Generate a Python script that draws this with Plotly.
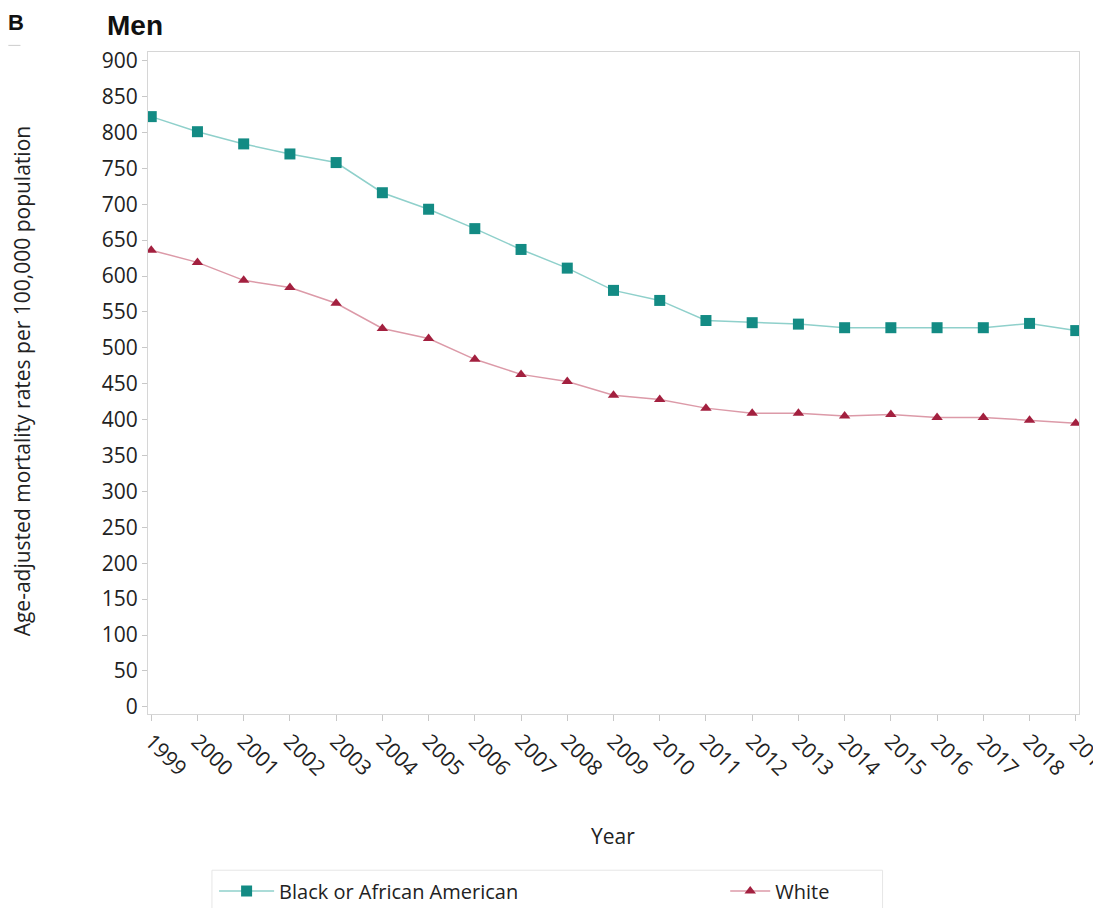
import plotly.graph_objects as go

years = list(range(1999, 2020))
year_labels = [str(y) for y in years]
black = [822, 801, 784, 770, 758, 716, 693, 666, 637, 611, 580, 566, 538, 535, 533, 528, 528, 528, 528, 534, 524]
white = [636, 619, 594, 584, 562, 527, 513, 484, 463, 453, 434, 428, 416, 409, 409, 405, 407, 403, 403, 399, 395]
y_ticks = list(range(0, 901, 50))

FONT = "Open Sans"

fig = go.Figure()
fig.add_trace(go.Scatter(
    x=years, y=black, name="Black or African American", mode="lines+markers",
    line=dict(color="#8fd0cb", width=1.5),
    marker=dict(symbol="square", size=11, color="#138b84"),
    legend="legend",
))
fig.add_trace(go.Scatter(
    x=years, y=white, name="White", mode="lines+markers",
    line=dict(color="#dc9aa8", width=1.5),
    marker=dict(symbol="triangle-up", size=10, color="#a3203f"),
    legend="legend2",
))

leg_common = dict(orientation="h", xanchor="left", y=-0.238, yanchor="top",
                  borderwidth=0, font=dict(size=20, family=FONT),
                  bgcolor="rgba(0,0,0,0)")

fig.update_layout(
    width=1093, height=900,
    margin=dict(l=140, r=22, t=44, b=194, autoexpand=False),
    paper_bgcolor="white", plot_bgcolor="white",
    font=dict(family=FONT, size=21, color="#222222"),
    showlegend=True,
    legend=dict(x=0.071, itemwidth=55, **leg_common),
    legend2=dict(x=0.620, itemwidth=40, **leg_common),
    xaxis=dict(
        range=[1998.93, 2019.07], tickmode="array", tickvals=years, ticktext=year_labels,
        tickangle=45, ticks="outside", ticklen=6, tickcolor="#c8c8c8",
        showgrid=False, zeroline=False, showline=True, linecolor="#d6d6d6", mirror=True,
        tickfont=dict(size=21, family=FONT), ticklabeloverflow="allow", automargin=False,
    ),
    yaxis=dict(
        range=[-10, 912], tickmode="array", tickvals=y_ticks,
        ticks="outside", ticklen=5, tickcolor="#c8c8c8",
        showgrid=False, zeroline=False, showline=True, linecolor="#d6d6d6", mirror=True,
        tickfont=dict(size=21, family=FONT), automargin=False,
    ),
    annotations=[
        dict(text="Age-adjusted mortality rates per 100,000 population", textangle=-90,
             xref="paper", yref="paper", x=-0.135, y=0.503, xanchor="center", yanchor="middle",
             showarrow=False, font=dict(size=21, family=FONT)),
        dict(text="Year", xref="paper", yref="paper", x=0.4995, y=-0.184,
             xanchor="center", yanchor="middle", showarrow=False, font=dict(size=21, family=FONT)),
        dict(text="<b>Men</b>", xref="paper", yref="paper", x=-0.046, y=1.0665,
             xanchor="left", yanchor="top", showarrow=False,
             font=dict(size=28, family="Liberation Sans", color="#111111")),
        dict(text="<b>B</b>", xref="paper", yref="paper", x=-0.152, y=1.0665,
             xanchor="left", yanchor="top", showarrow=False,
             font=dict(size=22, family="Liberation Sans", color="#111111")),
    ],
    shapes=[
        dict(type="line", xref="paper", yref="paper", x0=-0.150, x1=-0.137, y0=1.010, y1=1.010,
             line=dict(color="#cccccc", width=1)),
        dict(type="rect", xref="paper", yref="paper", x0=0.0687, x1=0.789, y0=-0.236, y1=-0.32,
             line=dict(color="#e6e6e6", width=1), fillcolor="rgba(0,0,0,0)"),
    ],
)

fig.write_html("out.html")
